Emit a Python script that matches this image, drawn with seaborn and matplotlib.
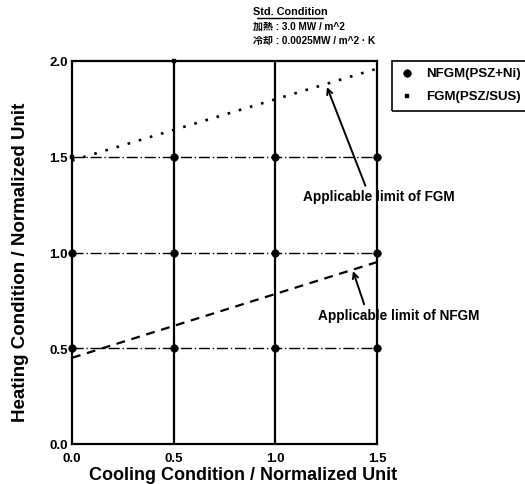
import matplotlib
matplotlib.use("Agg")
import matplotlib.pyplot as plt
import matplotlib.patches as mpatches
import seaborn as sns
import pandas as pd

# ---- data ----
nfgm_x = [0.0, 0.5, 1.0, 1.5, 0.0, 0.5, 1.0, 1.5, 0.5, 1.0, 1.5]
nfgm_y = [0.5, 0.5, 0.5, 0.5, 1.0, 1.0, 1.0, 1.0, 1.5, 1.5, 1.5]
fgm_x = [0.0, 0.5]
fgm_y = [1.5, 2.0]
fgm_limit_x = [0.0, 1.5]
fgm_limit_y = [1.48, 1.96]
nfgm_limit_x = [0.0, 1.5]
nfgm_limit_y = [0.45, 0.95]
grid_x = [0.5, 1.0]
grid_y = [0.5, 1.0, 1.5]
xticks = [0.0, 0.5, 1.0, 1.5]
yticks = [0.0, 0.5, 1.0, 1.5, 2.0]
series_names = ["NFGM(PSZ+Ni)", "FGM(PSZ/SUS)"]

sns.set_theme(style="white")
plt.rcParams['font.family'] = ['Liberation Sans', 'Noto Sans CJK JP', 'DejaVu Sans']
plt.rcParams['text.color'] = 'black'
plt.rcParams['axes.labelcolor'] = 'black'

W, H = 525, 485
fig = plt.figure(figsize=(5.25, 4.85), dpi=100)
ax = fig.add_axes([72/W, 40/H, 305/W, 383/H])

for gx in grid_x:
    ax.axvline(gx, color='black', lw=1.6, zorder=1)
for gy in grid_y:
    ax.axhline(gy, color='black', lw=1.0, ls=(0, (8, 2, 1, 2)), zorder=1)

sns.lineplot(x=fgm_limit_x, y=fgm_limit_y, ax=ax, color='black', lw=1.9,
             linestyle=(0, (1, 3.4)), zorder=3)
sns.lineplot(x=nfgm_limit_x, y=nfgm_limit_y, ax=ax, color='black', lw=1.6,
             linestyle=(0, (4, 3)), zorder=3)

df_n = pd.DataFrame({"x": nfgm_x, "y": nfgm_y})
df_f = pd.DataFrame({"x": fgm_x, "y": fgm_y})
sns.scatterplot(data=df_n, x="x", y="y", ax=ax, marker='o', s=30, color='black',
                edgecolor='black', label=series_names[0], zorder=4, clip_on=False)
sns.scatterplot(data=df_f, x="x", y="y", ax=ax, marker='s', s=8, color='black',
                edgecolor='black', label=series_names[1], zorder=4, clip_on=False)

ax.set_xlim(0, 1.5)
ax.set_ylim(0, 2.0)
ax.set_xticks(xticks)
ax.set_yticks(yticks)
ax.set_xticklabels([f"{v:.1f}" for v in xticks])
ax.set_yticklabels([f"{v:.1f}" for v in yticks])
ax.tick_params(axis='both', direction='in', length=3, width=1, labelsize=9.5,
               colors='black', labelcolor='black')
ax.tick_params(axis='x', pad=6)
ax.tick_params(axis='y', pad=3)
for lab in ax.get_xticklabels() + ax.get_yticklabels():
    lab.set_fontweight('bold')
for sp in ax.spines.values():
    sp.set_color('black')
    sp.set_linewidth(1.6)

ax.set_xlabel("Cooling Condition / Normalized Unit", fontsize=13, fontweight='bold',
              color='black')
ax.xaxis.set_label_coords((243 - 72) / 305, -(467 - 445) / 383)
ax.set_ylabel("Heating Condition / Normalized Unit", fontsize=13.5, fontweight='bold',
              color='black')
ax.yaxis.set_label_coords(-(72 - 29) / 305, (445 - 262) / 383)

# annotations
ax.annotate("Applicable limit of FGM", xy=(1.254, 1.864), xytext=(1.136, 1.295),
            fontsize=9.8, fontweight='bold', ha='left', va='center', color='black',
            annotation_clip=False,
            arrowprops=dict(arrowstyle='->', color='black', lw=1.4,
                            shrinkA=0, shrinkB=0, relpos=(0.42, 1.0)))
ax.annotate("Applicable limit of NFGM", xy=(1.382, 0.903), xytext=(1.212, 0.676),
            fontsize=9.8, fontweight='bold', ha='left', va='center', color='black',
            annotation_clip=False,
            arrowprops=dict(arrowstyle='->', color='black', lw=1.4,
                            shrinkA=0, shrinkB=0, relpos=(0.29, 1.0)))

# title block
fig.text(290/W, 1 - 12/H, "Std. Condition", fontsize=7.8, fontweight='bold',
         ha='center', va='center', color='black')
fig.add_artist(plt.Line2D([257/W, 323/W], [1 - 19/H, 1 - 19/H], color='black', lw=1))
fig.text(253/W, 1 - 27/H, "加熱 : 3.0 MW / m^2", fontsize=7.2, fontweight='bold',
         ha='left', va='center', color='black')
fig.text(253/W, 1 - 41/H, "冷却 : 0.0025MW / m^2 · K", fontsize=7.2, fontweight='bold',
         ha='left', va='center', color='black')

# legend (frame drawn separately so it runs off the right edge like the reference)
leg = ax.legend(loc='upper left', bbox_to_anchor=(394/W, 1 - 62/H),
                bbox_transform=fig.transFigure, frameon=False,
                fontsize=9.5, handletextpad=1.0, handlelength=1.0, borderpad=0.45,
                labelspacing=0.8, borderaxespad=0, markerscale=1.0)
for t in leg.get_texts():
    t.set_fontweight('bold')
    t.set_color('black')
fig.add_artist(mpatches.Rectangle((392/W, 1 - 112/H), 140/W, 50/H,
                                  transform=fig.transFigure, fill=False,
                                  edgecolor='black', lw=1.2, clip_on=False))

fig.savefig("out.png", dpi=100)
